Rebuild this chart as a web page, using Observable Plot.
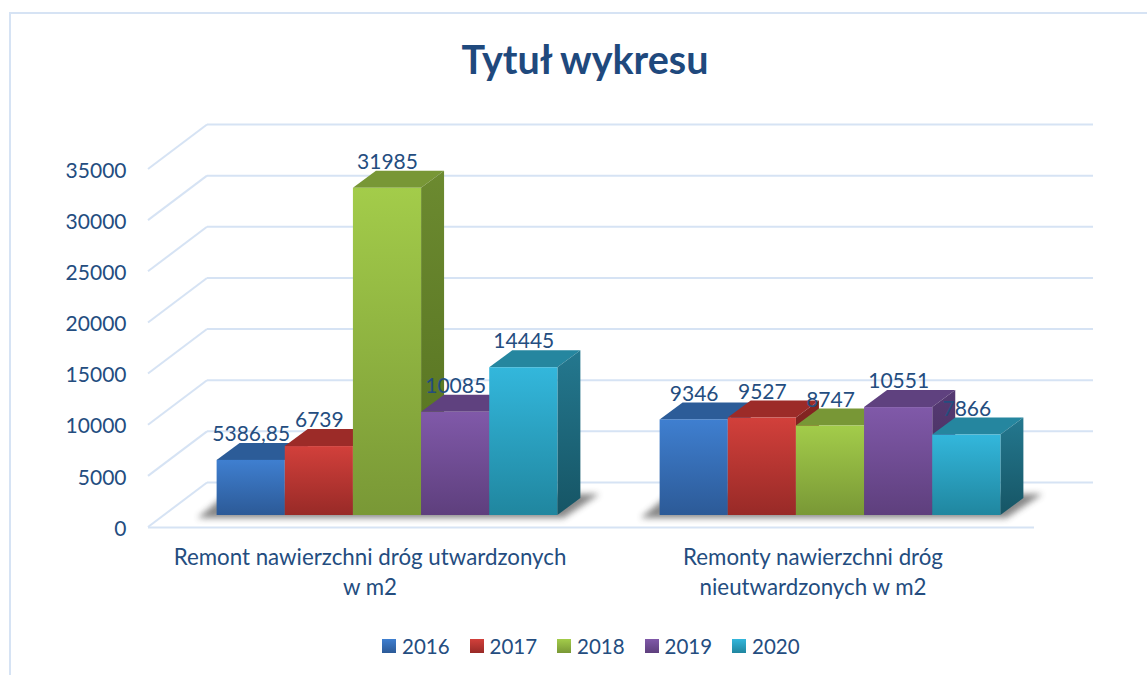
<!DOCTYPE html>
<html lang="pl">
<head>
<meta charset="utf-8">
<script src="https://cdn.jsdelivr.net/npm/d3@7"></script>
<script src="https://cdn.jsdelivr.net/npm/@observablehq/plot@0.6"></script>
<style>
  html, body { margin: 0; padding: 0; background: #fff; overflow: hidden; }
  #chart { position: relative; width: 1147px; height: 675px; font-family: Lato, sans-serif; color: #244d7f; }
  #frame { position: absolute; left: 9px; top: 12px; right: 0; bottom: 0; border-left: 2px solid #d6e3f4; border-top: 2px solid #d6e3f4; }
  #title { position: relative; height: 100px; line-height: 118px; padding-left: 0; width: 1170px; text-align: center; font-size: 39.5px; font-weight: 700; color: #1f497d; }
  #plot { position: relative; height: 510px; }
  #plot svg { display: block; background: none; }
  #legend { position: relative; height: 65px; display: flex; align-items: center; margin-left: 382px; padding-top: 7px; box-sizing: border-box; }
  .item { width: 87.5px; flex: none; display: flex; align-items: center; font-size: 20.5px; }
  .swatch { width: 14px; height: 14px; margin-right: 6px; }
</style>
</head>
<body>
<div id="chart">
  <div id="frame"></div>
  <div id="title"></div>
  <div id="plot"></div>
  <div id="legend"></div>
</div>
<script>
const titleText = "Tytuł wykresu";
const categories = [
  "Remont nawierzchni dróg utwardzonych\nw m2",
  "Remonty nawierzchni dróg\nnieutwardzonych w m2"
];
const years = ["2016", "2017", "2018", "2019", "2020"];
const surfacedValues = [5386.85, 6739, 31985, 10085, 14445];
const unsurfacedValues = [9346, 9527, 8747, 10551, 7866];
const yTicks = [0, 5000, 10000, 15000, 20000, 25000, 30000, 35000];
const frontTop = ["#3f7fd0", "#d2403b", "#a3cc4a", "#8059a9", "#33b7dc"];
const frontBottom = ["#2c5a97", "#982a27", "#799836", "#5e3f7d", "#20869f"];
const topFill = ["#2c5c98", "#9c2b28", "#789736", "#5f417f", "#25869f"];
const sideTop = ["#25507f", "#862522", "#6c8a30", "#563a73", "#24788f"];
const sideBottom = ["#1c3c62", "#6a1c1a", "#54701f", "#402c58", "#165565"];
const gridColor = "#d6e3f4";
const textColor = "#244d7f";

const rows = [surfacedValues, unsurfacedValues].flatMap((vals, c) =>
  vals.map((value, i) => ({category: categories[c], year: years[i], value, label: String(value).replace(".", ",")}))
);

const depthX = 23, depthY = 17;      // bar depth
const wallX = 59, wallY = 45;        // floor depth
const planeX = 17.5, planeY = 12;    // bars stand this far behind the front edge

function bars3d(index, scales, values, dimensions, context, next) {
  const g = next(index, scales, values, dimensions, context);
  const rects = [...g.querySelectorAll("rect")];
  const ns = "http://www.w3.org/2000/svg";
  const poly = (pts, fill, before) => {
    const p = document.createElementNS(ns, "polygon");
    p.setAttribute("points", pts.map(d => d.join(",")).join(" "));
    p.setAttribute("fill", fill);
    before.parentNode.insertBefore(p, before);
    return p;
  };
  const box = r => {
    const x = +r.getAttribute("x"), y = +r.getAttribute("y"), w = +r.getAttribute("width"), h = +r.getAttribute("height");
    return {x, y, w, h, b: y + h};
  };
  const first = box(rects[0]), last = box(rects[rects.length - 1]);
  const base = first.b;
  const shadow = poly([
    [first.x - 19, base + 3], [last.x + last.w + 6, base + 3],
    [last.x + last.w + 42, base - 21], [first.x + 10, base - 21]
  ], "#4a4a4a", rects[0]);
  shadow.setAttribute("filter", "url(#floorShadow)");
  shadow.setAttribute("opacity", "0.65");
  for (const r of rects) {
    const {x, y, w, b} = box(r);
    const id = r.getAttribute("fill").replace("url(#front", "").replace(")", "");
    poly([[x, y], [x + depthX, y - depthY], [x + w + depthX, y - depthY], [x + w, y]], topFill[years.indexOf(id)], r);
    poly([[x + w, y], [x + w + depthX, y - depthY], [x + w + depthX, b - depthY], [x + w, b]], `url(#side${id})`, r);
  }
  return g;
}

function diagonals(index, scales, values, dimensions) {
  const g = d3.create("svg:g").attr("stroke", gridColor).attr("stroke-width", 2);
  for (const i of index) {
    g.append("line")
      .attr("x1", dimensions.marginLeft).attr("y1", values.y[i])
      .attr("x2", dimensions.marginLeft + wallX).attr("y2", values.y[i] - wallY + 0.5);
  }
  return g.node();
}

const chart = Plot.plot({
  width: 1147,
  height: 510,
  marginLeft: 148,
  marginRight: 113,
  marginTop: 69,
  marginBottom: 83,
  style: {background: "none", fontFamily: "Lato, sans-serif", color: textColor},
  fx: {domain: categories, padding: 0, round: false, axis: null},
  x: {domain: years, paddingInner: 0, paddingOuter: 0.75, round: false, axis: null},
  y: {domain: [0, 35000], axis: null},
  color: {domain: years, range: years.map(y => `url(#front${y})`)},
  marks: [
    Plot.ruleY(yTicks, {dx: wallX, dy: -wallY, stroke: gridColor, strokeWidth: 2}),
    Plot.ruleY(yTicks, {fx: () => categories[0], render: diagonals}),
    Plot.ruleY([0], {stroke: gridColor, strokeWidth: 2}),
    Plot.axisY({ticks: yTicks, tickFormat: String, tickSize: 0, tickPadding: 22, dy: 1.5, label: null, fontSize: 21, fill: textColor}),
    Plot.axisFx({anchor: "bottom", tickSize: 0, tickPadding: 16, label: null, fontSize: 22.3, lineHeight: 1.36, fill: textColor}),
    Plot.barY(rows, {fx: "category", x: "year", y: "value", fill: "year", dx: planeX, dy: -planeY, render: bars3d}),
    Plot.text(rows, {fx: "category", x: "year", y: "value", text: "label", dx: planeX, dy: -planeY - 26, fontSize: 21, fill: textColor})
  ]
});

const svg = d3.select(chart);
const defs = svg.insert("defs", ":first-child");
const gradient = (id, c0, c1) => {
  const g = defs.append("linearGradient").attr("id", id).attr("x1", 0).attr("y1", 0).attr("x2", 0).attr("y2", 1);
  g.append("stop").attr("offset", 0).attr("stop-color", c0);
  g.append("stop").attr("offset", 1).attr("stop-color", c1);
};
years.forEach((y, i) => {
  gradient(`front${y}`, frontTop[i], frontBottom[i]);
  gradient(`side${y}`, sideTop[i], sideBottom[i]);
});
defs.append("filter").attr("id", "floorShadow")
  .attr("x", "-10%").attr("y", "-50%").attr("width", "120%").attr("height", "200%")
  .append("feGaussianBlur").attr("stdDeviation", 3);

document.getElementById("plot").append(chart);
document.getElementById("title").textContent = titleText;
const legend = d3.select("#legend");
years.forEach((y, i) => {
  const item = legend.append("div").attr("class", "item");
  item.append("div").attr("class", "swatch").style("background", `linear-gradient(${frontTop[i]}, ${frontBottom[i]})`);
  item.append("span").text(y);
});
</script>
</body>
</html>
